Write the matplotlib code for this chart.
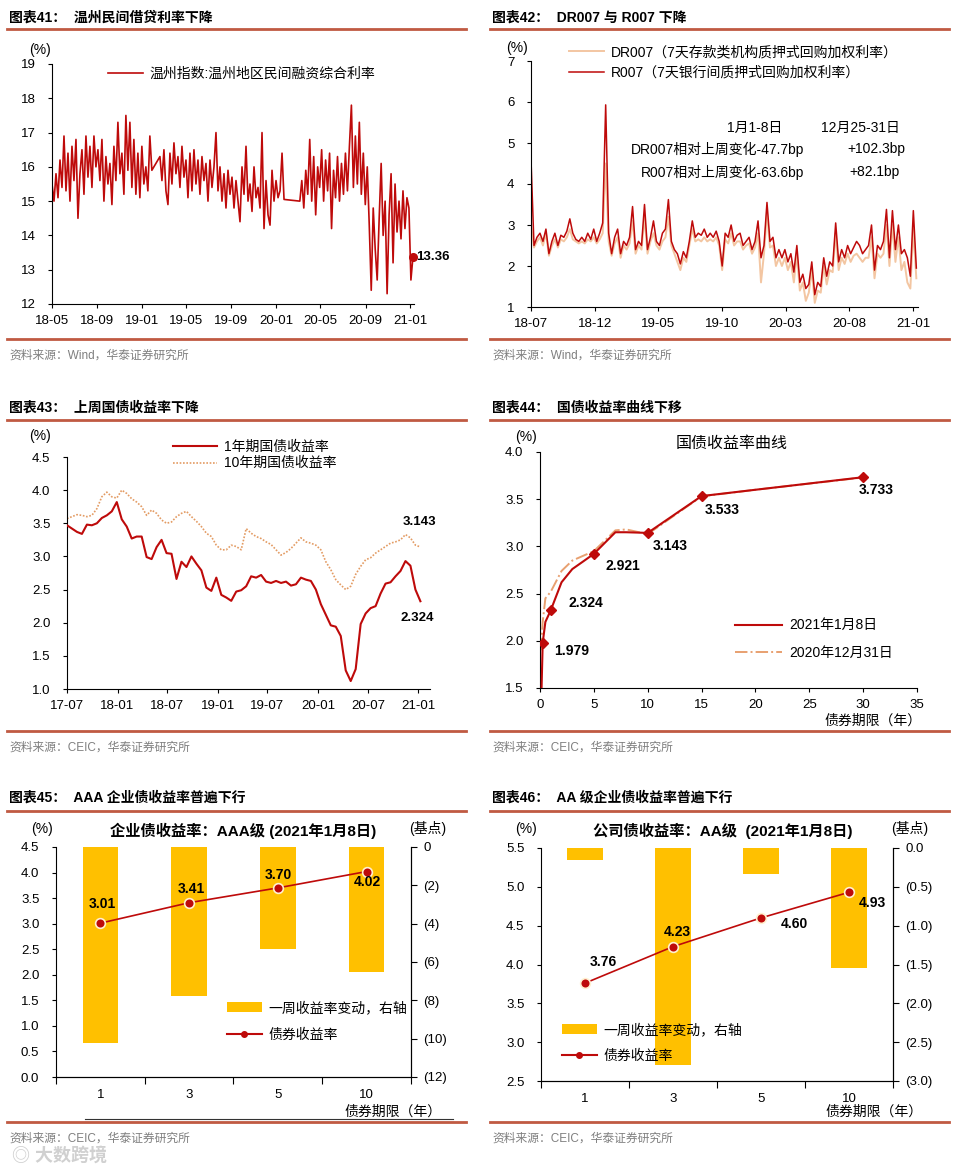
import numpy as np
import pandas as pd
import matplotlib
matplotlib.use('Agg')
import matplotlib.pyplot as plt
from matplotlib.lines import Line2D
from matplotlib.ticker import FuncFormatter

plt.rcParams['font.family'] = ['Liberation Sans', 'Noto Sans CJK SC']
plt.rcParams['font.size'] = 10
plt.rcParams['axes.unicode_minus'] = False

W, H = 954, 1172
RED = '#BE0A0A'
RULE = '#C05A42'
GOLD = '#FFC000'
GREY = '#7F7F7F'

# ---- chart 41: Wenzhou private lending rate (three stretches, gaps between) ----
wz_seg1 = [15.5, 15.0, 15.8, 15.1, 16.2, 15.4, 16.9, 15.3, 16.4, 15.0, 16.6, 15.6, 16.8,
           14.5, 15.8, 16.5, 15.2, 16.9, 15.7, 16.6, 15.4, 16.9, 16.0, 16.5, 15.6, 16.8,
           15.0, 16.3, 15.5, 16.1, 14.9, 16.6, 15.6, 17.3, 15.8, 16.4, 15.2, 17.5, 15.9,
           17.3, 15.4, 16.8, 15.2, 16.4, 15.1, 16.6, 15.5, 16.0, 15.3, 16.9, 15.9]
wz_seg2 = [16.3, 15.6, 16.5, 15.3, 14.9, 16.4, 15.5, 16.7, 15.8, 16.3, 15.4, 16.6, 15.7,
           16.2, 15.1, 16.4, 15.3, 16.5, 15.5, 16.2, 15.2, 16.3, 15.6, 16.1, 15.0, 16.2,
           15.4, 16.0, 17.0, 15.3, 16.0, 15.0, 15.8, 14.8, 15.9, 15.2, 15.7, 14.8, 15.6,
           15.0, 14.4, 16.0, 15.2, 16.6, 15.0, 15.5, 14.7, 16.0, 15.1, 15.4, 14.8, 17.0,
           14.2, 15.6, 14.6, 14.3, 15.9, 15.0, 15.6, 15.1, 15.3, 16.4, 15.05]
wz_seg3 = [15.0, 15.6, 14.8, 15.9, 15.2, 16.8, 15.0, 16.3, 14.6, 16.0,
           15.4, 16.5, 15.0, 16.2, 15.3, 16.4, 14.2, 15.9, 15.1, 16.3,
           15.0, 16.1, 15.2, 16.4, 15.3, 16.6, 17.8, 15.4, 16.9, 15.5,
           17.3, 15.2, 16.4, 14.9, 16.0, 14.3, 12.4, 14.8, 13.6, 12.7,
           14.5, 16.1, 14.0, 15.0, 12.3, 14.6, 15.8, 13.2, 15.5, 14.1,
           15.0, 13.9, 15.3, 14.2, 15.1, 14.8, 12.7, 13.36]
wz_spans = [('2018-05-01', '2019-01-28'), ('2019-02-19', '2020-01-23'), ('2020-03-06', '2021-01-08')]
wz_ticks = ['18-05', '18-09', '19-01', '19-05', '19-09', '20-01', '20-05', '20-09', '21-01']

# ---- chart 42: DR007 / R007 ----
r007 = [4.6, 2.5, 2.7, 2.8, 2.6, 2.9, 2.3, 2.6, 2.8, 2.5,
        2.75, 2.7, 2.85, 3.15, 2.8, 2.65, 2.6, 2.7, 2.6, 2.8,
        2.65, 2.9, 2.6, 2.8, 3.05, 5.93, 2.8, 2.3, 2.7, 2.9,
        2.3, 2.6, 2.5, 2.7, 3.45, 2.4, 2.6, 2.5, 3.5, 2.4,
        2.7, 3.1, 2.6, 2.5, 2.8, 2.9, 3.62, 2.6, 2.4, 2.3,
        2.05, 2.35, 2.2, 2.6, 3.1, 2.7, 2.8, 2.75, 2.9, 2.7,
        2.8, 2.7, 2.85, 2.6, 2.0, 2.8, 2.7, 3.0, 2.6, 2.75,
        2.8, 2.5, 2.6, 2.7, 2.4, 2.6, 3.1, 2.2, 2.5, 3.55,
        2.6, 2.7, 2.2, 2.4, 2.2, 2.4, 2.1, 2.3, 1.85, 2.5,
        1.6, 1.8, 1.45, 1.55, 2.1, 1.3, 1.6, 1.5, 2.2, 1.75,
        2.1, 2.0, 3.05, 2.1, 2.4, 2.2, 2.5, 2.3, 2.45, 2.6,
        2.5, 2.3, 2.4, 2.5, 3.0, 1.9, 2.5, 2.4, 2.6, 3.38,
        2.2, 3.35, 2.4, 3.0, 2.3, 2.4, 2.2, 1.75, 3.35, 1.95]
dr007 = [3.0, 2.45, 2.6, 2.7, 2.5, 2.8, 2.25, 2.5, 2.65, 2.45,
         2.65, 2.6, 2.7, 2.9, 2.65, 2.6, 2.55, 2.6, 2.55, 2.65,
         2.6, 2.7, 2.55, 2.65, 2.8, 4.5, 2.6, 2.25, 2.55, 2.7,
         2.2, 2.5, 2.4, 2.55, 3.1, 2.3, 2.5, 2.4, 3.2, 2.3,
         2.6, 2.8, 2.5, 2.4, 2.6, 2.7, 3.2, 2.5, 2.3, 2.1,
         1.9, 2.2, 2.1, 2.5, 2.9, 2.6, 2.65, 2.6, 2.7, 2.6,
         2.65, 2.6, 2.7, 2.5, 1.9, 2.65, 2.55, 2.8, 2.5, 2.6,
         2.6, 2.4, 2.5, 2.55, 2.3, 2.45, 2.8, 1.6, 2.3, 3.3,
         2.45, 2.5, 2.0, 2.2, 2.0, 2.2, 1.9, 2.1, 1.6, 2.3,
         1.4, 1.6, 1.15, 1.35, 1.9, 1.1, 1.4, 1.35, 2.0, 1.55,
         1.9, 1.85, 2.8, 1.9, 2.2, 2.05, 2.3, 2.1, 2.25, 2.3,
         2.2, 2.1, 2.2, 2.2, 2.7, 1.7, 2.3, 2.2, 2.3, 3.0,
         2.0, 3.0, 2.1, 2.7, 1.9, 2.1, 1.6, 1.45, 2.9, 1.7]
repo_span = ('2018-07-01', '2021-01-08')
repo_ticks = ['18-07', '18-12', '19-05', '19-10', '20-03', '20-08', '21-01']

# ---- chart 43: 1y / 10y treasury yields ----
cgb_1y = [3.47, 3.42, 3.37, 3.34, 3.48, 3.47, 3.5, 3.58, 3.62, 3.68, 3.82, 3.56, 3.45,
          3.27, 3.3, 3.3, 2.99, 2.96, 3.14, 3.25, 3.05, 3.04, 2.66, 2.92, 2.84, 3.0,
          2.89, 2.79, 2.53, 2.48, 2.68, 2.42, 2.38, 2.33, 2.47, 2.49, 2.55, 2.7, 2.68,
          2.72, 2.62, 2.6, 2.63, 2.6, 2.62, 2.56, 2.58, 2.68, 2.65, 2.63, 2.5, 2.28,
          2.12, 1.96, 1.94, 1.8, 1.28, 1.12, 1.3, 1.98, 2.14, 2.22, 2.25, 2.44, 2.59,
          2.61, 2.7, 2.78, 2.93, 2.86, 2.5, 2.324]
cgb_10y = [3.57, 3.6, 3.63, 3.62, 3.6, 3.62, 3.72, 3.9, 3.97, 3.9, 3.88, 4.0, 3.95,
           3.87, 3.82, 3.75, 3.62, 3.7, 3.65, 3.55, 3.5, 3.52, 3.6, 3.65, 3.68, 3.6,
           3.53, 3.45, 3.35, 3.3, 3.17, 3.1, 3.1, 3.17, 3.15, 3.1, 3.42, 3.35, 3.3,
           3.27, 3.22, 3.18, 3.1, 3.02, 3.06, 3.12, 3.2, 3.28, 3.22, 3.2, 3.17, 3.1,
           2.92, 2.8, 2.65, 2.57, 2.5, 2.55, 2.73, 2.85, 2.95, 2.98, 3.05, 3.1, 3.15,
           3.2, 3.22, 3.25, 3.33, 3.28, 3.17, 3.143]
cgb_span = ('2017-07-01', '2021-01-08')
cgb_ticks = ['17-07', '18-01', '18-07', '19-01', '19-07', '20-01', '20-07', '21-01']

# ---- chart 44: treasury curve ----
curve_tenor = [0.08, 0.25, 0.5, 1, 2, 3, 4, 5, 7, 8, 10, 15, 20, 30]
curve_0108 = [1.2, 1.979, 2.2, 2.324, 2.62, 2.76, 2.84, 2.921, 3.15, 3.15, 3.143, 3.533, 3.6, 3.733]
curve_1231 = [1.9, 2.2, 2.45, 2.52, 2.74, 2.85, 2.9, 2.95, 3.17, 3.18, 3.13, 3.53, 3.6, 3.73]
key_tenor = [0.25, 1, 5, 10, 15, 30]
key_yield = [1.979, 2.324, 2.921, 3.143, 3.533, 3.733]

# ---- charts 45 / 46: corporate bonds ----
bond_terms = ['1', '3', '5', '10']
aaa_yield = [3.01, 3.41, 3.70, 4.02]
aaa_chg_bp = [-10.2, -7.8, -5.3, -6.5]
aa_yield = [3.76, 4.23, 4.60, 4.93]
aa_chg_bp = [-0.15, -2.8, -0.33, -1.55]


fig = plt.figure(figsize=(W / 100, H / 100), dpi=100)


def box(x0, y0, x1, y1):
    return fig.add_axes([x0 / W, 1 - y1 / H, (x1 - x0) / W, (y1 - y0) / H])


def ftext(x, y, s, **kw):
    kw.setdefault('va', 'center')
    fig.text(x / W, 1 - y / H, s, **kw)


def hline(x0, x1, y, **kw):
    fig.add_artist(Line2D([x0 / W, x1 / W], [1 - y / H, 1 - y / H], **kw))


def style(ax, right=False):
    ax.spines['top'].set_visible(False)
    if not right:
        ax.spines['right'].set_visible(False)
    for s in ax.spines.values():
        s.set_linewidth(0.8)
    ax.tick_params(axis='y', labelsize=9.5, length=3, width=0.8, pad=9)
    ax.tick_params(axis='x', labelsize=9.5, length=3, width=0.8, pad=5)


def month_ticks(labels):
    return pd.to_datetime(['20' + t + '-01' for t in labels])


def pct_fmt(ax):
    ax.yaxis.set_major_formatter(FuncFormatter(lambda v, _: f'{v:.1f}'))


# frames: titles, rules, sources
frames = [
    (9, 0, '图表41：  温州民间借贷利率下降', '资料来源：Wind，华泰证券研究所'),
    (492, 0, '图表42：  DR007 与 R007 下降', '资料来源：Wind，华泰证券研究所'),
    (9, 390, '图表43：  上周国债收益率下降', '资料来源：CEIC，华泰证券研究所'),
    (492, 390, '图表44：  国债收益率曲线下移', '资料来源：CEIC，华泰证券研究所'),
    (9, 780, '图表45：  AAA 企业债收益率普遍下行', '资料来源：CEIC，华泰证券研究所'),
    (492, 780, '图表46：  AA 级企业债收益率普遍下行', '资料来源：CEIC，华泰证券研究所'),
]
rule_pos = {0: (29, 339), 390: (420, 731), 780: (811, 1122)}
for x0, y0, title, src in frames:
    top, bot = rule_pos[y0]
    ftext(x0, y0 + 18, title, fontsize=10, fontweight='bold')
    hline(x0 - 2, x0 + 457, top, color=RULE, lw=2)
    hline(x0 - 2, x0 + 457, bot, color=RULE, lw=2)
    ftext(x0, bot + 17, src, fontsize=8.5, color=GREY)

# ---------------- chart 41 ----------------
ax1 = box(52, 64, 414, 304)
style(ax1)
wz_dates = []
wz_vals = []
for seg, (d0, d1) in zip([wz_seg1, wz_seg2, wz_seg3], wz_spans):
    wz_dates.extend(pd.date_range(d0, d1, periods=len(seg)))
    wz_vals.extend(seg)
ax1.plot(wz_dates, wz_vals, color=RED, lw=1.2, label='温州指数:温州地区民间融资综合利率')
ax1.plot(wz_dates[-1], wz_vals[-1], 'o', color=RED, ms=5.5, clip_on=False)
ax1.annotate(f'{wz_vals[-1]:.2f}', (wz_dates[-1], wz_vals[-1]), xytext=(2, 0),
             textcoords='offset points', va='center', ha='left', fontsize=9.5, fontweight='bold')
ax1.set_ylim(12, 19)
ax1.set_yticks(range(12, 20))
ax1.set_xlim(pd.Timestamp('2018-05-01'), pd.Timestamp('2021-01-11'))
ax1.set_xticks(month_ticks(wz_ticks))
ax1.set_xticklabels(wz_ticks)
ax1.legend(loc='upper left', bbox_to_anchor=(0.155, 0.99), frameon=False, fontsize=10,
           handlelength=2.5, borderpad=0, borderaxespad=0, handletextpad=0.5)
ftext(40, 50, '(%)', ha='center')

# ---------------- chart 42 ----------------
ax2 = box(531, 61, 918, 307)
style(ax2)
repo_dates = pd.date_range(repo_span[0], repo_span[1], periods=len(r007))
ax2.plot(repo_dates, dr007, color='#F3C6A2', lw=1.4, label='DR007（7天存款类机构质押式回购加权利率）')
ax2.plot(repo_dates, r007, color=RED, lw=1.1, label='R007（7天银行间质押式回购加权利率）')
ax2.set_ylim(1, 7)
ax2.set_yticks(range(1, 8))
ax2.set_xlim(pd.Timestamp(repo_span[0]), pd.Timestamp('2021-01-12'))
ax2.set_xticks(month_ticks(repo_ticks))
ax2.set_xticklabels(repo_ticks)
ax2.legend(loc='upper left', bbox_to_anchor=(0.098, 1.065), frameon=False, fontsize=10,
           handlelength=2.5, labelspacing=0.5, borderpad=0, borderaxespad=0, handletextpad=0.5)
ftext(517, 48, '(%)', ha='center')
ftext(755, 128, '1月1-8日', ha='center')
ftext(860, 128, '12月25-31日', ha='center')
ftext(804, 149, 'DR007相对上周变化-47.7bp', ha='right')
ftext(905, 149, '+102.3bp', ha='right')
ftext(804, 172, 'R007相对上周变化-63.6bp', ha='right')
ftext(900, 172, '+82.1bp', ha='right')

# ---------------- chart 43 ----------------
ax3 = box(67, 457, 430, 689)
style(ax3)
cgb_dates = pd.date_range(cgb_span[0], cgb_span[1], periods=len(cgb_1y))
l1, = ax3.plot(cgb_dates, cgb_1y, color=RED, lw=1.5, label='1年期国债收益率')
l10, = ax3.plot(cgb_dates, cgb_10y, color='#E39B63', lw=1.2, ls=(0, (1, 1)), label='10年期国债收益率')
l1.set_zorder(3)
ax3.set_ylim(1.0, 4.5)
ax3.set_yticks(np.arange(1.0, 4.51, 0.5))
pct_fmt(ax3)
ax3.set_xlim(pd.Timestamp(cgb_span[0]), pd.Timestamp('2021-02-12'))
ax3.set_xticks(month_ticks(cgb_ticks))
ax3.set_xticklabels(cgb_ticks)
ax3.annotate(f'{cgb_10y[-1]:.3f}', (cgb_dates[-1], cgb_10y[-1]), xytext=(-1, 18),
             textcoords='offset points', ha='center', va='center', fontsize=9.5, fontweight='bold')
ax3.annotate(f'{cgb_1y[-1]:.3f}', (cgb_dates[-1], cgb_1y[-1]), xytext=(-2, -12),
             textcoords='offset points', ha='center', va='center', fontsize=9.5, fontweight='bold')
ax3.legend([l1, l10], [l1.get_label(), l10.get_label()], loc='upper left',
           bbox_to_anchor=(0.292, 1.075), frameon=False, fontsize=10, handlelength=3.2,
           labelspacing=0.2, borderpad=0, borderaxespad=0, handletextpad=0.5)
ftext(40, 436, '(%)', ha='center')

# ---------------- chart 44 ----------------
ax4 = box(540, 452, 917, 688)
style(ax4)
ax4.plot(curve_tenor, curve_0108, color=RED, lw=1.5, label='2021年1月8日', zorder=3)
ax4.plot(curve_tenor, curve_1231, color='#E8A070', lw=1.4, ls='-.', label='2020年12月31日', zorder=2)
ax4.plot(key_tenor, key_yield, 'D', color=RED, ms=5.5, zorder=4)
label_off = [(29, 8), (35, -7), (29, 12), (22, 13), (21, 14), (13, 13)]
for t, v, (dx, dy) in zip(key_tenor, key_yield, label_off):
    ax4.annotate(f'{v:.3f}', (t, v), xytext=(dx * 0.72, -dy * 0.72), textcoords='offset points',
                 ha='center', va='center', fontsize=10, fontweight='bold')
ax4.set_xlim(0, 35)
ax4.set_xticks(range(0, 36, 5))
ax4.set_ylim(1.5, 4.0)
ax4.set_yticks(np.arange(1.5, 4.01, 0.5))
pct_fmt(ax4)
ax4.legend(loc='upper left', bbox_to_anchor=(0.517, 0.295), frameon=False, fontsize=10,
           handlelength=3.4, labelspacing=1.0, borderpad=0, borderaxespad=0, handletextpad=0.5)
ftext(526, 437, '(%)', ha='center')
ftext(732, 443, '国债收益率曲线', ha='center', fontsize=11.5)
ftext(922, 721, '债券期限（年）', ha='right', fontsize=10)


# ---------------- charts 45 / 46 ----------------
def bond_panel(rect, yields, chg, ylim, rlim, rstep, rfmt, subtitle, sub_x, off, leg_anchor, leg_space):
    ax = box(*rect)
    axr = ax.twinx()
    ax.set_zorder(axr.get_zorder() + 1)
    ax.patch.set_visible(False)
    style(ax, right=True)
    style(axr, right=True)
    axr.spines['left'].set_visible(False)
    x = np.arange(len(bond_terms))
    bars = axr.bar(x, chg, width=0.4, color=GOLD, label='一周收益率变动，右轴')
    ax.plot(x, yields, color=RED, lw=1.2, marker='o', ms=7, mfc=RED, mec='#FFF0D0',
            mew=1.2, label='债券收益率')
    for xi, v, (dx, dy) in zip(x, yields, off):
        ax.annotate(f'{v:.2f}', (xi, v), xytext=(dx * 0.72, -dy * 0.72), textcoords='offset points',
                    ha='center', va='center', fontsize=10, fontweight='bold')
    ax.set_xlim(-0.5, len(bond_terms) - 0.5)
    ax.set_xticks(np.arange(-0.5, len(bond_terms)))
    ax.set_xticklabels([])
    ax.set_xticks(x, bond_terms, minor=True)
    ax.tick_params(axis='x', which='major', length=5)
    ax.tick_params(axis='x', which='minor', length=0, pad=9, labelsize=9.5)
    ax.set_ylim(*ylim)
    ax.set_yticks(np.arange(ylim[0], ylim[1] + 0.01, 0.5))
    pct_fmt(ax)
    axr.set_ylim(*rlim)
    axr.set_yticks(np.arange(rlim[0], rlim[1] + 0.001, rstep))
    axr.yaxis.set_major_formatter(FuncFormatter(rfmt))
    axr.tick_params(axis='y', length=4, pad=5, labelsize=9.5)
    ax.legend([bars, Line2D([], [], color=RED, lw=1.5, marker='o', ms=4)],
              ['一周收益率变动，右轴', '债券收益率'], loc='upper left', bbox_to_anchor=leg_anchor,
              frameon=False, fontsize=10, handlelength=2.5, labelspacing=leg_space,
              borderpad=0, borderaxespad=0, handletextpad=0.5)
    ftext(sub_x, 831, subtitle, ha='center', fontsize=11, fontweight='bold')
    return ax


bond_panel((56, 847, 411, 1077), aaa_yield, aaa_chg_bp, (0.0, 4.5), (-12, 0), 2,
           lambda v, _: '0' if v == 0 else f'({abs(v):.0f})',
           '企业债收益率：AAA级 (2021年1月8日)', 243,
           [(2, -19), (2, -14), (0, -13), (1, 10)], (0.482, 0.33), 0.95)
ftext(42, 829, '(%)', ha='center')
ftext(428, 828, '(基点)', ha='center')
ftext(442, 1112, '债券期限（年）', ha='right')
hline(85, 453, 1119, color='#333333', lw=0.8)

bond_panel((541, 848, 893, 1081), aa_yield, aa_chg_bp, (2.5, 5.5), (-3.0, 0.0), 0.5,
           lambda v, _: '0.0' if abs(v) < 1e-9 else f'({abs(v):.1f})',
           '公司债收益率：AA级  (2021年1月8日)', 723,
           [(18, -21), (4, -15), (33, 6), (23, 11)], (0.06, 0.25), 0.9)
ftext(526, 829, '(%)', ha='center')
ftext(910, 828, '(基点)', ha='center')
ftext(923, 1112, '债券期限（年）', ha='right')

# watermark in the corner
ftext(12, 1156, '◎ 大数跨境', fontsize=13, color='#D0D0D0', fontweight='bold')

fig.savefig('out.png', dpi=100)
